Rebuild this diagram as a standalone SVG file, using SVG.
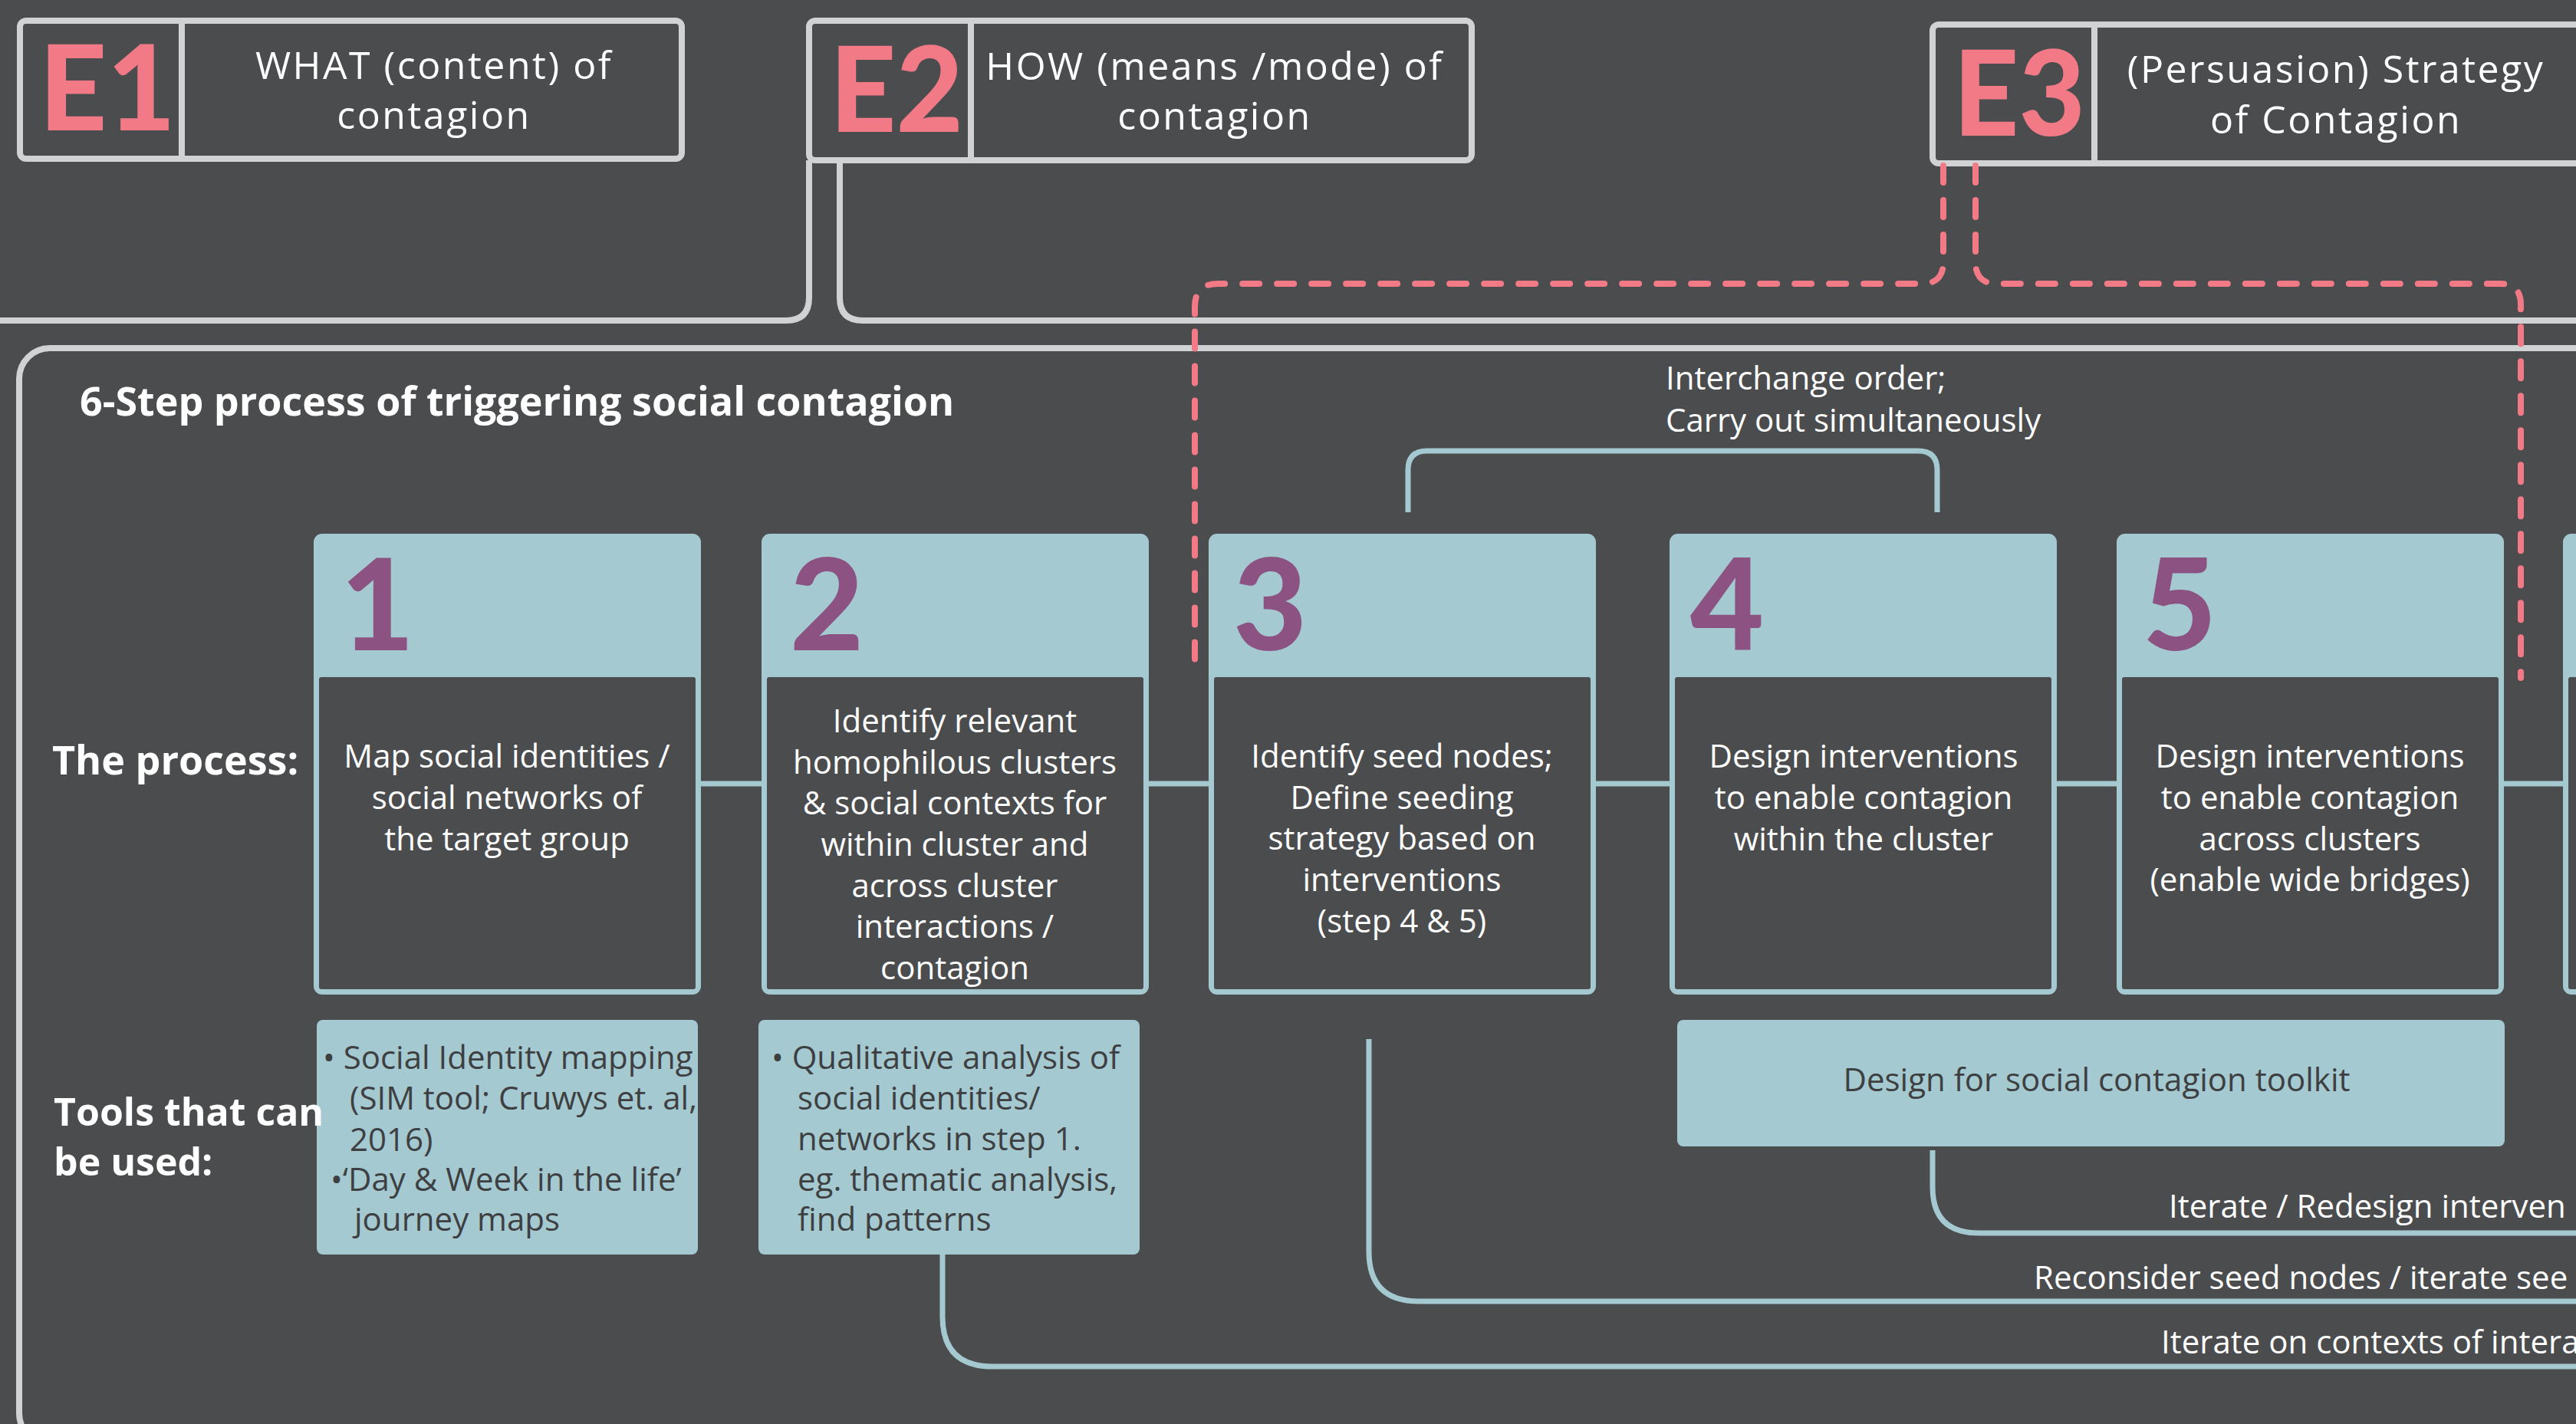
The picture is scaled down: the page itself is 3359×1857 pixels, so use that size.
<svg xmlns="http://www.w3.org/2000/svg" width="3359" height="1857" viewBox="0 0 3359 1857">
<style>
  .bg{fill:#4B4C4E}
  .ebox{fill:none;stroke:#D1D2D4;stroke-width:8}
  .gline{fill:none;stroke:#D1D2D4;stroke-width:8}
  .eletter{font-family:Lato,"Liberation Sans",sans-serif;font-weight:900;fill:#F27A87;font-size:154px;text-anchor:middle}
  .etitle{font-family:"Open Sans","Liberation Sans",sans-serif;font-weight:400;fill:#FFFFFF;font-size:50px;letter-spacing:2.5px;text-anchor:middle}
  .dash{fill:none;stroke:#F27A87;stroke-width:8;stroke-dasharray:22 23;stroke-linecap:round}
  .bline{fill:none;stroke:#A4C9D1;stroke-width:7}
  .head{fill:#A4C9D1}
  .body{fill:#4B4C4E}
  .num{font-family:Lato,"Liberation Sans",sans-serif;font-weight:900;fill:#8B5282;font-size:166px}
  .btxt{font-family:"Open Sans","Liberation Sans",sans-serif;fill:#FFFFFF;font-size:42px;text-anchor:middle}
  .lbl{font-family:"Open Sans","Liberation Sans",sans-serif;fill:#FFFFFF;font-size:42px}
  .bold{font-family:"Open Sans","Liberation Sans",sans-serif;font-weight:700;fill:#FFFFFF;font-size:52px}
  .tool{fill:#A4C9D1}
  .ttxt{font-family:"Open Sans","Liberation Sans",sans-serif;fill:#3E3F41;font-size:42px}
</style>
<rect class="bg" x="0" y="0" width="3359" height="1857"/>

<g id="container">
  <rect class="ebox" x="25" y="454" width="3400" height="1429" rx="40"/>
  <text class="bold" x="104" y="542">6-Step process of triggering social contagion</text>
  <text class="bold" x="68" y="1010">The process:</text>
</g>

<g id="E1">
  <rect class="ebox" x="26" y="27" width="863" height="180" rx="8"/>
  <line class="gline" x1="237" y1="27" x2="237" y2="207"/>
  <text class="eletter" x="140" y="170" textLength="178" lengthAdjust="spacingAndGlyphs">E1</text>
  <text class="etitle" x="566" y="103">WHAT (content) of</text>
  <text class="etitle" x="566" y="168">contagion</text>
</g>

<g id="E2">
  <rect class="ebox" x="1055" y="27" width="864" height="182" rx="8"/>
  <line class="gline" x1="1266" y1="27" x2="1266" y2="209"/>
  <text class="eletter" x="1169" y="172" textLength="174" lengthAdjust="spacingAndGlyphs">E2</text>
  <text class="etitle" x="1584" y="104">HOW (means /mode) of</text>
  <text class="etitle" x="1584" y="169">contagion</text>
</g>

<g id="E3">
  <rect class="ebox" x="2520" y="32" width="1000" height="181" rx="8"/>
  <line class="gline" x1="2731" y1="32" x2="2731" y2="213"/>
  <text class="eletter" x="2633" y="177" textLength="172" lengthAdjust="spacingAndGlyphs">E3</text>
  <text class="etitle" x="3046" y="108">(Persuasion) Strategy</text>
  <text class="etitle" x="3046" y="174">of Contagion</text>
</g>

<g id="connectors">
  <path class="gline" d="M1055,209 L1055,388 Q1055,418 1025,418 L-10,418"/>
  <path class="gline" d="M1095,209 L1095,388 Q1095,418 1125,418 L3370,418"/>
  <path class="dash" d="M2534,216 L2534,342 Q2534,370 2506,370 L1588,370 Q1558,370 1558,400 L1558,880"/>
  <path class="dash" d="M2576,216 L2576,342 Q2576,370 2604,370 L3260,370 Q3287,370 3287,397 L3287,884"/>
  <line class="bline" x1="914" y1="1022" x2="993" y2="1022"/>
  <line class="bline" x1="1496" y1="1022" x2="1576" y2="1022"/>
  <line class="bline" x1="2078" y1="1022" x2="2177" y2="1022"/>
  <line class="bline" x1="2681" y1="1022" x2="2760" y2="1022"/>
  <line class="bline" x1="3263" y1="1022" x2="3342" y2="1022"/>
  <path class="bline" d="M1836,668 L1836,613 Q1836,588 1861,588 L2501,588 Q2526,588 2526,613 L2526,668"/>
  <path class="bline" d="M2520,1500 L2520,1548 Q2520,1608 2580,1608 L3370,1608"/>
  <path class="bline" d="M1785,1355 L1785,1632 Q1785,1697 1850,1697 L3370,1697"/>
  <path class="bline" d="M1229,1636 L1229,1717 Q1229,1782 1294,1782 L3370,1782"/>
  <text class="lbl" x="2172" y="508">Interchange order;</text>
  <text class="lbl" x="2172" y="563">Carry out simultaneously</text>
  <text class="lbl" x="2828" y="1588">Iterate / Redesign interven</text>
  <text class="lbl" x="2652" y="1681">Reconsider seed nodes / iterate see</text>
  <text class="lbl" x="2818" y="1765">Iterate on contexts of intera</text>
</g>

<g id="step1">
  <rect class="head" x="409" y="696" width="505" height="601" rx="11"/>
  <rect class="body" x="416" y="883" width="491" height="407" rx="3"/>
  <text class="num" x="444" y="848">1</text>
  <text class="btxt" x="661" y="1001">Map social identities /</text>
  <text class="btxt" x="661" y="1055">social networks of</text>
  <text class="btxt" x="661" y="1109">the target group</text>
</g>

<g id="step2">
  <rect class="head" x="993" y="696" width="505" height="601" rx="11"/>
  <rect class="body" x="1000" y="883" width="491" height="407" rx="3"/>
  <text class="num" x="1030" y="848">2</text>
  <text class="btxt" x="1245" y="955">Identify relevant</text>
  <text class="btxt" x="1245" y="1009">homophilous clusters</text>
  <text class="btxt" x="1245" y="1062">&amp; social contexts for</text>
  <text class="btxt" x="1245" y="1116">within cluster and</text>
  <text class="btxt" x="1245" y="1170">across cluster</text>
  <text class="btxt" x="1245" y="1223">interactions /</text>
  <text class="btxt" x="1245" y="1277">contagion</text>
</g>

<g id="step3">
  <rect class="head" x="1576" y="696" width="505" height="601" rx="11"/>
  <rect class="body" x="1583" y="883" width="491" height="407" rx="3"/>
  <text class="num" x="1608" y="848">3</text>
  <text class="btxt" x="1828" y="1001">Identify seed nodes;</text>
  <text class="btxt" x="1828" y="1055">Define seeding</text>
  <text class="btxt" x="1828" y="1108">strategy based on</text>
  <text class="btxt" x="1828" y="1162">interventions</text>
  <text class="btxt" x="1828" y="1216">(step 4 &amp; 5)</text>
</g>

<g id="step4">
  <rect class="head" x="2177" y="696" width="505" height="601" rx="11"/>
  <rect class="body" x="2184" y="883" width="491" height="407" rx="3"/>
  <text class="num" x="2204" y="848">4</text>
  <text class="btxt" x="2430" y="1001">Design interventions</text>
  <text class="btxt" x="2430" y="1055">to enable contagion</text>
  <text class="btxt" x="2430" y="1109">within the cluster</text>
</g>

<g id="step5">
  <rect class="head" x="2760" y="696" width="505" height="601" rx="11"/>
  <rect class="body" x="2767" y="883" width="491" height="407" rx="3"/>
  <text class="num" x="2794" y="848">5</text>
  <text class="btxt" x="3012" y="1001">Design interventions</text>
  <text class="btxt" x="3012" y="1055">to enable contagion</text>
  <text class="btxt" x="3012" y="1109">across clusters</text>
  <text class="btxt" x="3012" y="1162">(enable wide bridges)</text>
</g>

<g id="step6">
  <rect class="head" x="3342" y="696" width="505" height="601" rx="11"/>
  <rect class="body" x="3349" y="883" width="491" height="407" rx="3"/>
</g>

<g id="tools1">
  <rect class="tool" x="413" y="1330" width="497" height="306" rx="8"/>
  <text class="ttxt" x="421" y="1394">• Social Identity mapping</text>
  <text class="ttxt" x="456" y="1447">(SIM tool; Cruwys et. al,</text>
  <text class="ttxt" x="456" y="1501">2016)</text>
  <text class="ttxt" x="431" y="1553">•‘Day &amp; Week in the life’</text>
  <text class="ttxt" x="462" y="1605">journey maps</text>
</g>

<g id="tools2">
  <rect class="tool" x="989" y="1330" width="497" height="306" rx="8"/>
  <text class="ttxt" x="1006" y="1394">• Qualitative analysis of</text>
  <text class="ttxt" x="1040" y="1447">social identities/</text>
  <text class="ttxt" x="1040" y="1500">networks in step 1.</text>
  <text class="ttxt" x="1040" y="1553">eg. thematic analysis,</text>
  <text class="ttxt" x="1040" y="1605">find patterns</text>
</g>

<g id="toolkit">
  <rect class="tool" x="2187" y="1330" width="1079" height="165" rx="8"/>
  <text class="ttxt" x="2734" y="1423" text-anchor="middle">Design for social contagion toolkit</text>
</g>

<g id="tools-label">
  <text class="bold" x="70" y="1468" style="font-size:50px">Tools that can</text>
  <text class="bold" x="70" y="1533" style="font-size:50px">be used:</text>
</g>
</svg>
